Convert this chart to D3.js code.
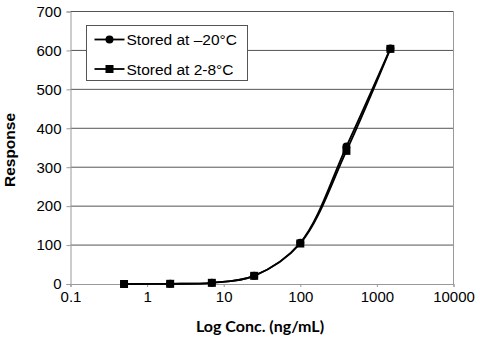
<!DOCTYPE html>
<html>
<head>
<meta charset="utf-8">
<script src="https://cdn.jsdelivr.net/npm/d3@7"></script>
<style>
  body { margin: 0; background: #fff; }
  svg { display: block; }
</style>
</head>
<body>
<svg></svg>
<script>
// concentrations (ng/mL) and responses
const conc = [0.5, 2, 7, 25, 100, 400, 1500];
const frozen = [0, 0.5, 3, 21, 106, 353, 605];
const fridge = [0, 0.5, 3, 21, 104, 342, 604];
const xTicks = [0.1, 1, 10, 100, 1000, 10000];
const yTicks = [0, 100, 200, 300, 400, 500, 600, 700];

const width = 480;
const height = 339;
const margin = { top: 11.5, right: 26.5, bottom: 55, left: 70.5 };
const innerWidth = width - margin.left - margin.right;
const innerHeight = height - margin.top - margin.bottom;
const font = '"Liberation Sans", Arial, sans-serif';

const svg = d3.select('svg')
	.attr('width', width)
	.attr('height', height);

const xScale = d3.scaleLog()
	.domain([0.1, 10000])
	.range([0, innerWidth]);

const yScale = d3.scaleLinear()
	.domain([0, 700])
	.range([innerHeight, 0]);

const g = svg.append('g')
	.attr('transform', `translate(${margin.left},${margin.top})`);

// gridlines
g.selectAll('line.grid').data(yTicks.slice(1))
	.enter().append('line')
		.attr('class', 'grid')
		.attr('x1', 0)
		.attr('x2', innerWidth)
		.attr('y1', d => yScale(d))
		.attr('y2', d => yScale(d))
		.attr('stroke', '#555')
		.attr('stroke-width', 1);

// right border
g.append('line')
	.attr('x1', innerWidth).attr('x2', innerWidth)
	.attr('y1', 0).attr('y2', innerHeight)
	.attr('stroke', '#999');

const yAxis = d3.axisLeft(yScale)
	.tickValues(yTicks)
	.tickSize(4)
	.tickPadding(5);

const yAxisGroup = g.append('g')
	.call(yAxis)
	.attr('font-size', 15)
	.attr('font-family', font);
yAxisGroup.select('.domain').attr('stroke', '#999');
yAxisGroup.selectAll('.tick line').attr('stroke', '#999');

const xAxis = d3.axisBottom(xScale)
	.tickValues(xTicks)
	.tickFormat(d => String(d))
	.tickSize(3)
	.tickPadding(4);

const xAxisGroup = g.append('g')
	.attr('transform', `translate(0,${innerHeight})`)
	.call(xAxis)
	.attr('font-size', 15)
	.attr('font-family', font);
xAxisGroup.select('.domain').attr('stroke', '#999');
xAxisGroup.selectAll('.tick line').attr('stroke', '#999');

// axis titles
svg.append('text')
	.attr('x', margin.left + innerWidth / 2 - 2)
	.attr('y', 332)
	.attr('text-anchor', 'middle')
	.style('font-family', 'Lato, "Open Sans", sans-serif')
	.style('font-weight', 'bold')
	.style('font-size', '16px')
	.text('Log Conc. (ng/mL)');

svg.append('text')
	.attr('transform', 'translate(15,150) rotate(-90)')
	.attr('text-anchor', 'middle')
	.style('font-family', font)
	.style('font-weight', 'bold')
	.style('font-size', '15.5px')
	.text('Response');

// curves
const line = d3.line()
	.x(d => xScale(d[0]))
	.y(d => yScale(d[1]))
	.curve(d3.curveCatmullRom.alpha(0.5));

const seriesList = [
	{ name: 'Stored at \u201320\u00b0C', values: frozen, shape: 'circle' },
	{ name: 'Stored at 2-8\u00b0C', values: fridge, shape: 'square' }
];

seriesList.forEach(s => {
	const pts = conc.map((c, i) => [c, s.values[i]]);
	g.append('path')
		.attr('d', line(pts))
		.attr('fill', 'none')
		.attr('stroke', '#000')
		.attr('stroke-width', 1.8);
});

seriesList.forEach(s => {
	const pts = conc.map((c, i) => [c, s.values[i]]);
	if (s.shape === 'circle') {
		g.selectAll(null).data(pts)
			.enter().append('circle')
				.attr('cx', d => xScale(d[0]))
				.attr('cy', d => yScale(d[1]))
				.attr('r', 4)
				.attr('fill', '#000');
	} else {
		g.selectAll(null).data(pts)
			.enter().append('rect')
				.attr('x', d => xScale(d[0]) - 4)
				.attr('y', d => yScale(d[1]) - 4)
				.attr('width', 8)
				.attr('height', 8)
				.attr('fill', '#000');
	}
});

// legend
const legend = svg.append('g')
	.attr('transform', 'translate(86.5,25.5)');

legend.append('rect')
	.attr('width', 161)
	.attr('height', 55)
	.attr('fill', '#fff')
	.attr('stroke', '#555');

seriesList.forEach((s, i) => {
	const y = 14 + i * 29.5;
	const item = legend.append('g').attr('transform', `translate(0,${y})`);
	item.append('line')
		.attr('x1', 8).attr('x2', 38)
		.attr('stroke', '#000')
		.attr('stroke-width', 1.8);
	if (s.shape === 'circle') {
		item.append('circle').attr('cx', 23).attr('r', 4).attr('fill', '#000');
	} else {
		item.append('rect').attr('x', 19).attr('y', -4).attr('width', 8).attr('height', 8).attr('fill', '#000');
	}
	item.append('text')
		.attr('x', 40)
		.attr('y', 5.5)
		.style('font-family', font)
		.style('font-size', '15.5px')
		.text(s.name);
});
</script>
</body>
</html>
